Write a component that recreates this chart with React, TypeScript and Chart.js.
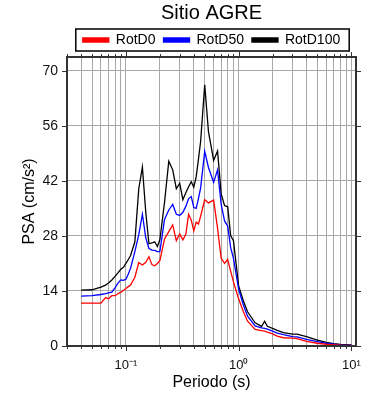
import { useEffect, useRef } from 'react';
import { Chart, registerables } from 'chart.js';

Chart.register(...registerables);

const periods = [0.04, 0.05, 0.06, 0.066, 0.07, 0.075, 0.08, 0.085, 0.09, 0.095, 0.1, 0.105, 0.11, 0.12, 0.13, 0.14, 0.15, 0.16, 0.17, 0.18, 0.19, 0.2, 0.22, 0.24, 0.26, 0.28, 0.3, 0.32, 0.34, 0.36, 0.38, 0.4, 0.42, 0.44, 0.46, 0.5, 0.54, 0.6, 0.65, 0.7, 0.75, 0.8, 0.85, 0.9, 1.0, 1.1, 1.2, 1.4, 1.6, 1.7, 1.8, 2.0, 2.2, 2.5, 3.0, 3.3, 4.0, 5.0, 6.0, 7.0, 8.0, 10.0];

const rotD100 = [14.2, 14.3, 15.0, 15.5, 16.0, 16.8, 17.7, 18.6, 19.5, 20.0, 21.0, 22.0, 23.0, 26.5, 40.0, 45.5, 34.0, 26.0, 26.2, 26.5, 25.3, 27.0, 36.5, 47.0, 44.8, 40.0, 41.4, 37.2, 39.0, 40.5, 41.8, 40.4, 43.0, 47.5, 52.0, 66.4, 54.5, 47.2, 49.6, 38.7, 35.7, 35.4, 28.0, 26.8, 15.3, 11.5, 8.7, 5.9, 5.0, 6.3, 5.0, 4.5, 4.0, 3.4, 3.0, 3.0, 2.4, 1.5, 0.9, 0.6, 0.4, 0.25];

const rotD50 = [12.7, 12.8, 13.1, 13.3, 13.5, 13.7, 14.8, 16.0, 16.8, 16.7, 17.0, 18.3, 19.8, 24.0, 28.3, 33.5, 27.5, 24.8, 24.4, 24.3, 24.0, 24.0, 32.2, 34.6, 36.0, 33.5, 33.2, 34.0, 35.5, 37.5, 38.0, 35.2, 35.0, 37.5, 40.2, 49.5, 45.4, 41.6, 44.8, 36.0, 31.8, 30.5, 25.0, 22.3, 14.5, 10.5, 7.6, 5.1, 4.6, 4.5, 4.3, 3.8, 3.3, 2.9, 2.4, 2.3, 1.7, 1.1, 0.7, 0.45, 0.3, 0.2];

const rotD0 = [10.9, 10.9, 10.9, 12.3, 12.0, 12.8, 12.8, 13.3, 13.7, 14.1, 14.6, 15.1, 15.5, 17.5, 21.2, 20.6, 21.3, 22.7, 20.7, 20.4, 21.0, 21.7, 27.2, 29.1, 30.8, 26.8, 28.5, 27.0, 28.4, 33.5, 32.0, 29.3, 31.5, 31.0, 33.0, 37.2, 36.4, 37.1, 30.0, 22.3, 21.0, 22.0, 19.0, 16.3, 12.0, 8.8, 6.3, 4.2, 3.9, 3.8, 3.5, 3.1, 2.5, 2.1, 2.0, 1.9, 1.2, 0.7, 0.45, 0.3, 0.2, 0.15];

const seriesLabels = ['RotD0', 'RotD50', 'RotD100'];
const seriesColors = ['#ff0000', '#0000ff', '#000000'];

const yTicks = [0, 14, 28, 42, 56, 70];
const xGridTicks = [0.03, 0.04, 0.05, 0.06, 0.07, 0.08, 0.09, 0.1, 0.2, 0.3, 0.4, 0.5, 0.6, 0.7, 0.8, 0.9, 1, 2, 3, 4, 5, 6, 7, 8, 9, 10];
const xMajorTicks = [0.1, 1, 10];
const xMajorLabels = ['10\u207B\u00B9', '10\u2070', '10\u00B9'];

const FONT = "'Liberation Sans', Arial, Helvetica, sans-serif";

const isMajor = (v: number) => xMajorTicks.some((m) => Math.abs(m - v) / m < 1e-6);

const framePlugin = {
  id: 'frame',
  afterDraw(chart: any) {
    const { ctx, chartArea, scales } = chart;
    const { left, right, top, bottom } = chartArea;
    const x = scales.x;
    const y = scales.y;
    ctx.save();
    ctx.strokeStyle = '#333';
    ctx.lineWidth = 1;
    x.ticks.forEach((t: any) => {
      const px = Math.round(x.getPixelForValue(t.value)) + 0.5;
      const len = isMajor(t.value) ? 5 : 3;
      ctx.beginPath();
      ctx.moveTo(px, bottom);
      ctx.lineTo(px, bottom + len);
      ctx.moveTo(px, top);
      ctx.lineTo(px, top - len);
      ctx.stroke();
    });
    y.ticks.forEach((t: any) => {
      const py = Math.round(y.getPixelForValue(t.value)) + 0.5;
      ctx.beginPath();
      ctx.moveTo(left, py);
      ctx.lineTo(left - 5, py);
      ctx.moveTo(right, py);
      ctx.lineTo(right + 5, py);
      ctx.stroke();
    });
    ctx.lineWidth = 2;
    ctx.strokeRect(left, top, right - left, bottom - top);

    const legend = chart.legend;
    if (legend && legend.legendHitBoxes && legend.legendHitBoxes.length) {
      const hb = legend.legendHitBoxes;
      let l = Infinity, r = -Infinity, t = Infinity, b = -Infinity;
      hb.forEach((h: any) => {
        l = Math.min(l, h.left);
        r = Math.max(r, h.left + h.width);
        t = Math.min(t, h.top);
        b = Math.max(b, h.top + h.height);
      });
      ctx.lineWidth = 1.5;
      ctx.strokeStyle = '#000';
      ctx.strokeRect(l - 7, t - 4, r - l + 16, b - t + 8);
    }
    ctx.restore();
  },
};

export default function App() {
  const ref = useRef<HTMLCanvasElement | null>(null);

  useEffect(() => {
    if (!ref.current) return;
    const values = [rotD0, rotD50, rotD100];
    const chart = new Chart(ref.current, {
      type: 'line',
      data: {
        datasets: values.map((vals, i) => ({
          label: seriesLabels[i],
          data: periods.map((p, j) => ({ x: p, y: vals[j] })),
          borderColor: seriesColors[i],
          backgroundColor: seriesColors[i],
          borderWidth: 1.3,
          pointRadius: 0,
          tension: 0,
          fill: false,
        })),
      },
      options: {
        responsive: false,
        animation: false,
        layout: { padding: { left: 0, right: 34, top: 0, bottom: 0 } },
        plugins: {
          title: {
            display: true,
            text: 'Sitio AGRE',
            fullSize: false,
            color: '#000',
            font: { family: FONT, size: 20, weight: 'normal' },
            padding: { top: 1, bottom: 0 },
          },
          legend: {
            display: true,
            fullSize: false,
            labels: {
              color: '#000',
              font: { family: FONT, size: 14 },
              boxWidth: 26,
              boxHeight: 4,
              padding: 8,
            },
          },
          tooltip: { enabled: false },
        },
        scales: {
          x: {
            type: 'logarithmic',
            min: 0.03,
            max: 11,
            afterFit: (s: any) => {
              s.height = 54;
            },
            afterBuildTicks: (s: any) => {
              s.ticks = xGridTicks.map((v) => ({ value: v }));
            },
            grid: { color: '#a8a8a8', lineWidth: 1, drawTicks: false },
            border: { display: false },
            ticks: {
              autoSkip: false,
              maxRotation: 0,
              padding: 12,
              color: '#111',
              font: { family: FONT, size: 13 },
              callback: (v: any) => {
                const idx = xMajorTicks.findIndex((m) => Math.abs(m - Number(v)) / m < 1e-6);
                return idx >= 0 ? xMajorLabels[idx] : '';
              },
            },
            title: {
              display: true,
              text: 'Periodo (s)',
              color: '#000',
              font: { family: FONT, size: 16 },
              padding: { top: 0, bottom: 8 },
            },
          },
          y: {
            type: 'linear',
            min: 0,
            max: 73.5,
            afterFit: (s: any) => {
              s.width = 67;
            },
            afterBuildTicks: (s: any) => {
              s.ticks = yTicks.map((v) => ({ value: v }));
            },
            grid: { color: '#a8a8a8', lineWidth: 1, drawTicks: false },
            border: { display: false },
            ticks: {
              padding: 9,
              color: '#111',
              font: { family: FONT, size: 14 },
            },
            title: {
              display: true,
              text: 'PSA (cm/s\u00B2)',
              color: '#000',
              font: { family: FONT, size: 16 },
              padding: { top: 20, bottom: 0 },
            },
          },
        },
      },
      plugins: [framePlugin],
    });
    return () => chart.destroy();
  }, []);

  return (
    <div style={{ position: 'fixed', left: 0, top: 0, width: 390, height: 400, background: '#fff' }}>
      <canvas ref={ref} width={390} height={400} style={{ width: 390, height: 400, display: 'block' }} />
    </div>
  );
}
